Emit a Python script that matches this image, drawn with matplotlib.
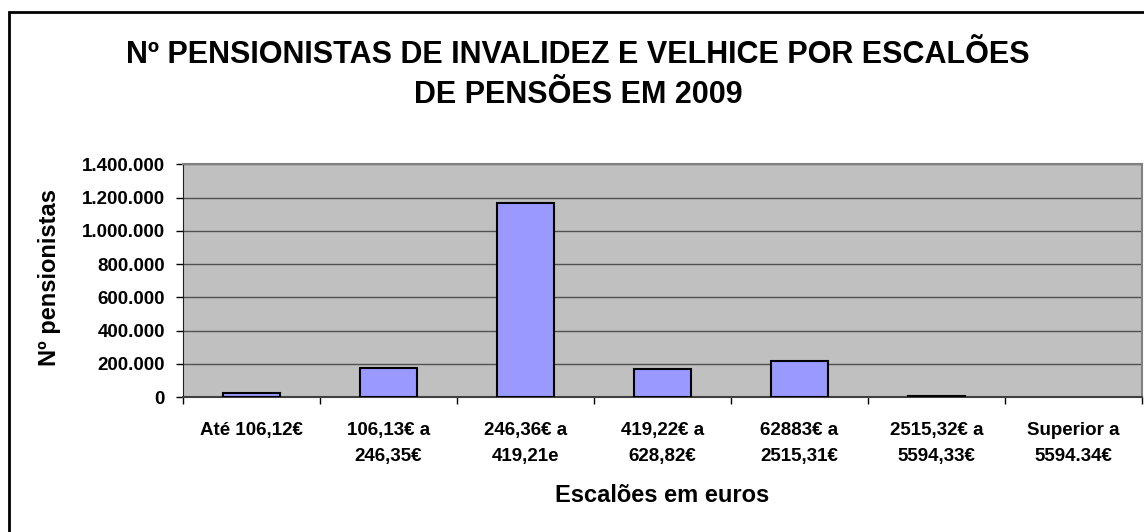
import numpy as np
import matplotlib.pyplot as plt
from matplotlib.ticker import FuncFormatter, FixedLocator

# Nº pensionistas de invalidez e velhice por escalões de pensões, 2009
escaloes = ['Até 106,12€', '106,13€ a\n246,35€', '246,36€ a\n419,21e',
            '419,22€ a\n628,82€', '62883€ a\n2515,31€', '2515,32€ a\n5594,33€',
            'Superior a\n5594.34€']
pensionistas = [24000, 172000, 1169000, 170000, 215000, 9000, 0]
y_ticks = [0, 200000, 400000, 600000, 800000, 1000000, 1200000, 1400000]

titulo = 'Nº PENSIONISTAS DE INVALIDEZ E VELHICE POR ESCALÕES\nDE PENSÕES EM 2009'

plt.rcParams['font.family'] = ['Liberation Sans', 'DejaVu Sans']
plt.rcParams['font.weight'] = 'bold'

W, H = 1144, 532
fig = plt.figure(figsize=(W / 100, H / 100), dpi=100)
fig.patch.set_facecolor('white')

ax = fig.add_axes([183 / W, 1 - 397 / H, (1142 - 183) / W, (397 - 164.3) / H])
ax.set_facecolor('#C0C0C0')

x = np.arange(len(escaloes))
lw = [1.5 if v > 0 else 0 for v in pensionistas]
ax.bar(x, pensionistas, width=0.42, color='#9999FF', edgecolor='black',
       linewidth=lw, zorder=3)

ax.set_xlim(-0.5, len(escaloes) - 0.5)
ax.set_ylim(0, 1400000)
ax.set_yticks(y_ticks)
ax.yaxis.set_major_formatter(FuncFormatter(lambda v, p: f'{int(v):,}'.replace(',', '.')))
ax.grid(axis='y', color='#505050', linewidth=1, zorder=1)

ax.set_xticks(x)
ax.set_xticklabels(escaloes, linespacing=1.68)
ax.xaxis.set_minor_locator(FixedLocator(np.arange(-0.5, len(escaloes), 1)))
ax.tick_params(axis='x', which='major', length=0, pad=18, labelsize=13.5)
ax.tick_params(axis='x', which='minor', length=5, width=1, color='black')
ax.tick_params(axis='y', length=5, width=1, color='black', pad=8, labelsize=13.5)

for s in ['top', 'right']:
    ax.spines[s].set_color('#808080')
    ax.spines[s].set_linewidth(1.5)
ax.spines['left'].set_color('#202020')
ax.spines['bottom'].set_color('#404040')
ax.spines['bottom'].set_linewidth(1.5)

fig.text(50 / W, 1 - 278 / H, 'Nº pensionistas', rotation=90, ha='center',
         va='center', fontsize=17, fontweight='bold')
fig.text(662 / W, 1 - 495 / H, 'Escalões em euros', ha='center', va='center',
         fontsize=17, fontweight='bold')
fig.text(578 / W, 1 - 75 / H, titulo, ha='center', va='center', fontsize=22,
         fontweight='bold', linespacing=1.42)

# chart border (only top and left visible in the crop)
border = plt.Rectangle((9 / W, -0.05), 1.1, 1 - 12 / H + 0.05,
                       transform=fig.transFigure, fill=False,
                       edgecolor='black', linewidth=2, clip_on=False)
fig.patches.append(border)

fig.savefig('out.png', dpi=100)
